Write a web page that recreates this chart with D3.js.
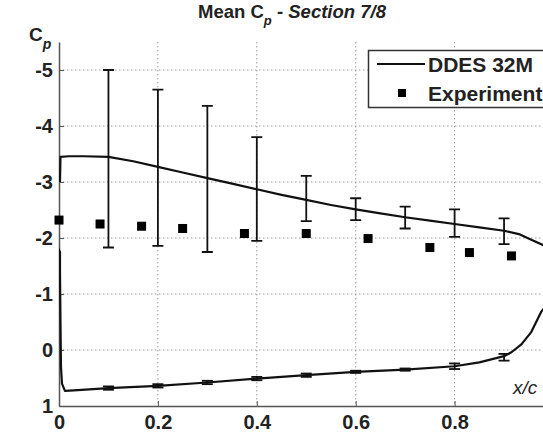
<!DOCTYPE html>
<html>
<head>
<meta charset="utf-8">
<script src="https://cdn.jsdelivr.net/npm/d3@7"></script>
<style>
  body { margin: 0; background: #fff; }
  svg { display: block; font-family: "Liberation Sans", Arial, sans-serif; }
</style>
</head>
<body>
<div id="container"></div>
<script>
// DDES mean Cp along the section (upper surface, trailing edge, lower surface, leading edge)
const cfdX = [0.002, 0.003, 0.02, 0.05, 0.1, 0.15, 0.2, 0.25, 0.3, 0.35, 0.4, 0.45, 0.5, 0.55, 0.6, 0.65, 0.7, 0.75, 0.8, 0.85, 0.9, 0.93, 0.955, 0.98, 0.993, 1.0, 1.0, 0.99, 0.975, 0.955, 0.935, 0.915, 0.9, 0.85, 0.8, 0.7, 0.6, 0.5, 0.4, 0.3, 0.2, 0.1, 0.03, 0.012, 0.006, 0.004, 0.003, 0.002, 0.002, -0.006, -0.006];
const cfdCp = [-3.0, -3.45, -3.46, -3.46, -3.45, -3.37, -3.27, -3.17, -3.07, -2.97, -2.87, -2.77, -2.68, -2.59, -2.51, -2.44, -2.37, -2.31, -2.25, -2.19, -2.13, -2.07, -1.97, -1.87, -1.65, -1.35, -1.05, -0.85, -0.68, -0.32, -0.1, 0.04, 0.11, 0.22, 0.29, 0.35, 0.39, 0.45, 0.51, 0.58, 0.64, 0.68, 0.72, 0.73, 0.6, 0.3, -0.5, -1.4, -1.75, -1.9, -2.9];

// DDES fluctuation bars
const barX = [0.1, 0.2, 0.3, 0.4, 0.5, 0.6, 0.7, 0.8, 0.9];
const upperTop = [-5.0, -4.65, -4.36, -3.80, -3.11, -2.71, -2.56, -2.51, -2.35];
const upperBottom = [-1.83, -1.86, -1.75, -1.95, -2.30, -2.32, -2.17, -2.02, -1.89];
const lowerTop = [0.65, 0.61, 0.55, 0.48, 0.42, 0.37, 0.33, 0.24, 0.07];
const lowerBottom = [0.71, 0.67, 0.61, 0.54, 0.48, 0.41, 0.37, 0.34, 0.19];

// Experiment
const expX = [0.0, 0.083, 0.167, 0.25, 0.375, 0.5, 0.625, 0.75, 0.83, 0.915];
const expCp = [-2.32, -2.25, -2.21, -2.17, -2.08, -2.08, -1.99, -1.83, -1.74, -1.68];

const xTicks = [0, 0.2, 0.4, 0.6, 0.8];
const yTicks = [-5, -4, -3, -2, -1, 0, 1];

const width = 543;
const height = 438;
const marginLeft = 59;
const plotRight = 553.5;
const marginTop = 42;
const plotBottom = 406;
const fontSize = 20;

const x = d3.scaleLinear().domain([0, 1]).range([marginLeft, plotRight]);
const y = d3.scaleLinear().domain([-5.5, 1]).range([marginTop, plotBottom]);

const svg = d3.create("svg")
  .attr("width", width)
  .attr("height", height)
  .attr("viewBox", [0, 0, width, height]);

svg.append("defs").append("clipPath")
  .attr("id", "plotClip")
  .append("rect")
  .attr("x", marginLeft)
  .attr("y", marginTop - 6)
  .attr("width", plotRight - marginLeft + 10)
  .attr("height", plotBottom - marginTop + 6);

// Grid
const grid = svg.append("g").attr("clip-path", "url(#plotClip)");
grid.selectAll(".vgrid")
  .data(xTicks.slice(1))
  .join("line")
  .attr("x1", d => x(d))
  .attr("x2", d => x(d))
  .attr("y1", marginTop)
  .attr("y2", plotBottom)
  .attr("stroke", "#9a9a9a")
  .attr("stroke-dasharray", "1.5,2.5");
grid.selectAll(".hgrid")
  .data(yTicks.slice(0, -1))
  .join("line")
  .attr("x1", marginLeft)
  .attr("x2", plotRight)
  .attr("y1", d => y(d))
  .attr("y2", d => y(d))
  .attr("stroke", "#9a9a9a")
  .attr("stroke-dasharray", "1.5,2.5");

// Axes (only left and bottom, ticks inward)
svg.append("g")
  .attr("transform", `translate(${marginLeft},0)`)
  .call(d3.axisLeft(y)
    .tickValues(yTicks)
    .tickSizeInner(-5)
    .tickSizeOuter(0)
    .tickPadding(6)
    .tickFormat(d3.format("d")))
  .call(g => g.select(".domain").attr("stroke", "#555").attr("stroke-width", 1.5))
  .call(g => g.selectAll(".tick line").attr("stroke", "#555"))
  .selectAll("text")
  .attr("font-size", fontSize)
  .attr("font-weight", "bold")
  .attr("fill", "#222")
  .attr("font-family", "Liberation Sans, Arial, sans-serif")
  .text(d => d < 0 ? "-" + Math.abs(d) : d);

svg.append("g")
  .attr("transform", `translate(0,${plotBottom})`)
  .call(d3.axisBottom(x)
    .tickValues(xTicks)
    .tickSizeInner(-5)
    .tickSizeOuter(0)
    .tickPadding(9)
    .tickFormat(d => d === 0 ? "0" : d3.format(".1f")(d)))
  .call(g => g.select(".domain").attr("stroke", "#555").attr("stroke-width", 1.5))
  .call(g => g.selectAll(".tick line").attr("stroke", "#555"))
  .selectAll("text")
  .attr("font-size", fontSize)
  .attr("font-weight", "bold")
  .attr("fill", "#222")
  .attr("font-family", "Liberation Sans, Arial, sans-serif");

// Data layer
const plot = svg.append("g").attr("clip-path", "url(#plotClip)");

const line = d3.line()
  .x(d => x(d[0]))
  .y(d => y(d[1]));

plot.append("path")
  .datum(d3.zip(cfdX, cfdCp))
  .attr("d", line)
  .attr("fill", "none")
  .attr("stroke", "#111")
  .attr("stroke-width", 2.2)
  .attr("stroke-linejoin", "round");

const bars = barX.map((bx, i) => [
  { x: bx, top: upperTop[i], bottom: upperBottom[i] },
  { x: bx, top: lowerTop[i], bottom: lowerBottom[i] }
]).flat();

const capW = 5.5;
const barG = plot.append("g").attr("stroke", "#111").attr("stroke-width", 1.8);
barG.selectAll(".stem")
  .data(bars)
  .join("line")
  .attr("x1", d => x(d.x)).attr("x2", d => x(d.x))
  .attr("y1", d => y(d.top)).attr("y2", d => y(d.bottom));
barG.selectAll(".capTop")
  .data(bars)
  .join("line")
  .attr("x1", d => x(d.x) - capW).attr("x2", d => x(d.x) + capW)
  .attr("y1", d => y(d.top)).attr("y2", d => y(d.top));
barG.selectAll(".capBottom")
  .data(bars)
  .join("line")
  .attr("x1", d => x(d.x) - capW).attr("x2", d => x(d.x) + capW)
  .attr("y1", d => y(d.bottom)).attr("y2", d => y(d.bottom));

const sq = 9;
svg.append("g")
  .selectAll("rect")
  .data(d3.zip(expX, expCp))
  .join("rect")
  .attr("x", d => x(d[0]) - sq / 2)
  .attr("y", d => y(d[1]) - sq / 2)
  .attr("width", sq)
  .attr("height", sq)
  .attr("fill", "#000");

// Legend
const legend = svg.append("g");
legend.append("rect")
  .attr("x", 368.5).attr("y", 50.5)
  .attr("width", 185).attr("height", 57)
  .attr("fill", "#fff")
  .attr("stroke", "#333")
  .attr("stroke-width", 1.5);
legend.append("line")
  .attr("x1", 377).attr("x2", 425)
  .attr("y1", 64).attr("y2", 64)
  .attr("stroke", "#111").attr("stroke-width", 2.2);
legend.append("rect")
  .attr("x", 398).attr("y", 89)
  .attr("width", 8).attr("height", 8)
  .attr("fill", "#000");
legend.append("text")
  .attr("x", 428).attr("y", 72)
  .attr("font-size", 21).attr("font-weight", "bold").attr("fill", "#222")
  .text("DDES 32M");
legend.append("text")
  .attr("x", 428).attr("y", 101)
  .attr("font-size", 21).attr("font-weight", "bold").attr("fill", "#222")
  .text("Experiment");

// Title
const title = svg.append("text")
  .attr("x", 292).attr("y", 18)
  .attr("text-anchor", "middle")
  .attr("font-size", 18.5).attr("font-weight", "bold").attr("fill", "#222");
title.append("tspan").text("Mean C");
title.append("tspan").attr("dy", 7).attr("font-size", 13).attr("font-style", "italic").text("p");
title.append("tspan").attr("dy", -7).text(" - ");
title.append("tspan").attr("font-style", "italic").text("Section 7/8");

// Axis labels
const yLabel = svg.append("text")
  .attr("x", 29).attr("y", 41)
  .attr("font-size", 19).attr("font-weight", "bold").attr("fill", "#222");
yLabel.append("tspan").text("C");
yLabel.append("tspan").attr("dy", 8).attr("font-size", 14).attr("font-style", "italic").text("p");

svg.append("text")
  .attr("x", 513).attr("y", 394)
  .attr("font-size", 19).attr("font-style", "italic").attr("fill", "#222")
  .text("x/c");

container.append(svg.node());
</script>
</body>
</html>
